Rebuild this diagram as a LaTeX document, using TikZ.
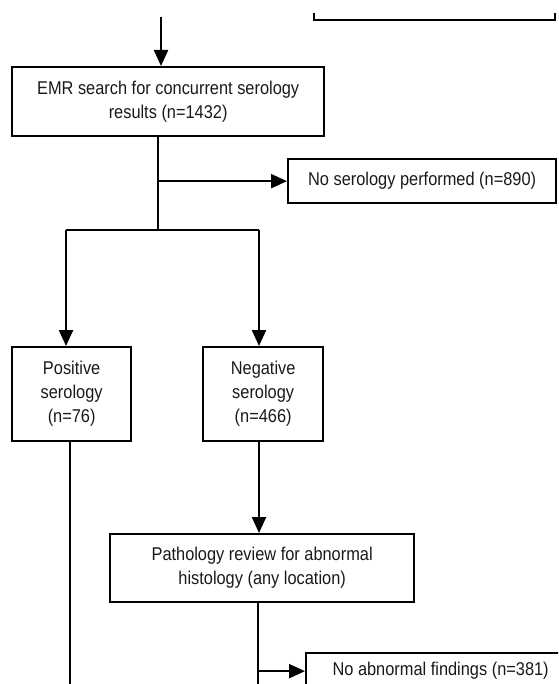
\documentclass[tikz,border=0pt]{standalone}
\usepackage{fontspec}
\setmainfont{Liberation Sans}[FakeStretch=0.885]
\usepackage{tikz}
\usetikzlibrary{arrows.meta,positioning,calc}

\begin{document}
\begin{tikzpicture}[
  x=1pt, y=-1pt,
  font=\fontsize{18.5}{24}\selectfont,
  box/.style={draw, line width=2.3pt, align=center, inner sep=0pt,
              anchor=north west, text=black!90},
  ar/.style={-{Triangle[length=16pt, width=14pt]}, line width=2.3pt},
  ln/.style={line width=2.3pt},
]
\useasboundingbox (0,0) rectangle (558,684);
\clip (0,0) rectangle (558,684);

% ---------------- search and serology ----------------
\coordinate (in) at (161,17);
\draw[ln] (314,13) -- (314,20) -- (555,20) -- (555,13);

\node[box, minimum width=312pt, minimum height=69pt] (emr) at (11,66)
  {EMR search for concurrent serology\\ results (n=1432)};
\node[box, minimum width=268pt, minimum height=44pt] (noser) at (287,158)
  {No serology performed (n=890)};

\draw[ar] (in) -- (in |- emr.north);

\coordinate (trunk) at (158,230);
\coordinate (sl) at (66,230);
\coordinate (sr) at (259,230);
\draw[ln] (trunk |- emr.south) -- (trunk);
\draw[ar] (trunk |- noser.west) -- (noser.west);
\draw[ln] (sl) -- (sr);

% ---------------- positive / negative ----------------
\node[box, minimum width=119pt, minimum height=94pt] (pos) at (11,346)
  {Positive\\ serology\\ (n=76)};
\node[box, minimum width=120pt, minimum height=94pt] (neg) at (202,346)
  {Negative\\ serology\\ (n=466)};

\draw[ar] (sl) -- (sl |- pos.north);
\draw[ar] (sr) -- (sr |- neg.north);

\coordinate (posout) at (70,700);
\draw[ln] (posout |- pos.south) -- (posout);

% ---------------- pathology review ----------------
\node[box, minimum width=304pt, minimum height=68pt] (path) at (109,533)
  {Pathology review for abnormal\\ histology (any location)};
\node[box, minimum width=269pt, minimum height=36pt] (noabn) at (305,652)
  {No abnormal findings (n=381)};

\draw[ar] (sr |- neg.south) -- (sr |- path.north);

\coordinate (pathout) at (258,700);
\draw[ln] (pathout |- path.south) -- (pathout);
\draw[ar] (pathout |- noabn.west) -- (noabn.west);
\end{tikzpicture}
\end{document}
